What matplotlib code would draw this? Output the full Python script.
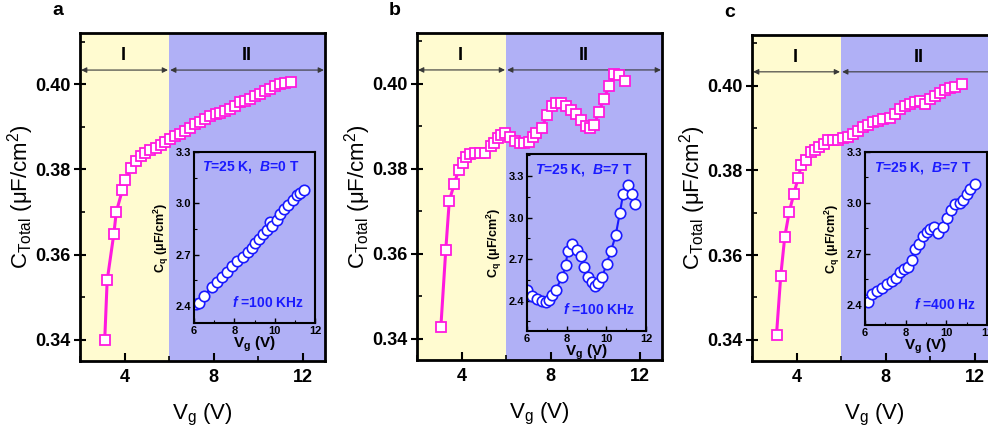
import numpy as np
import matplotlib.pyplot as plt
from matplotlib.ticker import MultipleLocator

plt.rcParams['font.family'] = ['Liberation Sans', 'DejaVu Sans']
plt.rcParams['mathtext.fontset'] = 'custom'
plt.rcParams['mathtext.rm'] = 'Liberation Sans'
plt.rcParams['mathtext.it'] = 'Liberation Sans:italic:bold'
plt.rcParams['mathtext.bf'] = 'Liberation Sans:bold'
plt.rcParams['mathtext.default'] = 'regular'

# --- Data ---

# panel a: T=25 K, B=0 T, f=100 kHz
a_vg = [3.11, 3.22, 3.52, 3.63, 3.90, 4.04, 4.30, 4.52, 4.72, 4.93, 5.15, 5.39, 5.62, 5.83,
        6.02, 6.25, 6.47, 6.70, 6.92, 7.15, 7.37, 7.60, 7.82, 8.09, 8.30, 8.53, 8.72, 8.94,
        9.17, 9.39, 9.62, 9.84, 10.07, 10.29, 10.52, 10.74, 10.97, 11.19, 11.46]
a_ctot = [0.3400, 0.3539, 0.3649, 0.3700, 0.3751, 0.3776, 0.3804, 0.3820, 0.3831, 0.3839,
          0.3845, 0.3851, 0.3857, 0.3863, 0.3871, 0.3878, 0.3882, 0.3890, 0.3898, 0.3906,
          0.3910, 0.3918, 0.3924, 0.3929, 0.3933, 0.3937, 0.3941, 0.3949, 0.3957, 0.3961,
          0.3965, 0.3973, 0.3976, 0.3984, 0.3988, 0.3995, 0.4000, 0.4002, 0.4004]
a_ins_vg = [6.08, 6.26, 6.51, 6.88, 7.12, 7.37, 7.62, 7.87, 8.12, 8.41, 8.66, 8.86, 9.02,
            9.24, 9.44, 9.64, 9.77, 9.85, 10.10, 10.26, 10.46, 10.68, 10.92, 11.09, 11.26, 11.45]
a_ins_cq = [2.41, 2.416, 2.46, 2.512, 2.542, 2.571, 2.60, 2.633, 2.662, 2.687, 2.714, 2.736,
            2.765, 2.79, 2.823, 2.846, 2.891, 2.868, 2.905, 2.94, 2.969, 2.988, 3.017, 3.046,
            3.06, 3.08]

# panel b: T=25 K, B=7 T, f=100 kHz
b_vg = [3.07, 3.29, 3.45, 3.67, 3.87, 4.06, 4.21, 4.39, 4.61, 4.83, 5.06, 5.32, 5.47, 5.62,
        5.77, 5.96, 6.16, 6.38, 6.61, 6.82, 7.01, 7.19, 7.34, 7.61, 7.83, 8.06, 8.24, 8.46,
        8.69, 8.91, 9.14, 9.36, 9.58, 9.78, 9.96, 10.16, 10.38, 10.64, 10.83, 11.06, 11.36]
b_ctot = [0.3427, 0.3608, 0.3725, 0.3764, 0.3798, 0.3815, 0.3827, 0.3834, 0.3837, 0.3837,
          0.3837, 0.3853, 0.3862, 0.3872, 0.3880, 0.3884, 0.3876, 0.3866, 0.3860, 0.3860,
          0.3864, 0.3876, 0.3884, 0.3897, 0.3927, 0.3948, 0.3954, 0.3954, 0.3948, 0.3939,
          0.3929, 0.3915, 0.3901, 0.3896, 0.3904, 0.3933, 0.3964, 0.3996, 0.4024, 0.4021,
          0.4007]
b_ins_vg = [6.02, 6.27, 6.52, 6.74, 6.94, 7.11, 7.24, 7.44, 7.78, 7.95, 8.05, 8.28, 8.50,
            8.70, 8.89, 9.09, 9.26, 9.42, 9.59, 9.79, 10.01, 10.23, 10.47, 10.68, 10.85, 11.07,
            11.27, 11.44]
b_ins_cq = [2.48, 2.436, 2.41, 2.395, 2.39, 2.405, 2.44, 2.478, 2.57, 2.654, 2.76, 2.806,
            2.767, 2.72, 2.646, 2.574, 2.533, 2.509, 2.525, 2.569, 2.666, 2.757, 2.871, 3.033,
            3.173, 3.238, 3.173, 3.096]

# panel c: T=25 K, B=7 T, f=400 Hz
c_vg = [3.10, 3.29, 3.47, 3.67, 3.88, 4.07, 4.22, 4.42, 4.64, 4.82, 5.02, 5.23, 5.42, 5.64,
        5.87, 6.07, 6.32, 6.54, 6.77, 6.99, 7.22, 7.44, 7.67, 7.89, 8.19, 8.42, 8.64, 8.87,
        9.09, 9.32, 9.54, 9.77, 9.99, 10.22, 10.44, 10.67, 10.89, 11.12, 11.42]
c_ctot = [0.3412, 0.3551, 0.3643, 0.3702, 0.3745, 0.3782, 0.3813, 0.3825, 0.3843, 0.3849,
          0.3855, 0.3863, 0.3871, 0.3871, 0.3871, 0.3876, 0.3878, 0.3886, 0.3894, 0.3902,
          0.3907, 0.3914, 0.3918, 0.3922, 0.3925, 0.3933, 0.3945, 0.3953, 0.3958, 0.3961,
          0.3963, 0.3957, 0.3969, 0.3976, 0.3984, 0.3990, 0.3995, 0.3998, 0.4005]
c_ins_vg = [6.05, 6.17, 6.33, 6.58, 6.82, 7.07, 7.31, 7.52, 7.72, 7.92, 8.13, 8.30, 8.46,
            8.68, 8.87, 9.03, 9.20, 9.40, 9.61, 9.82, 10.02, 10.21, 10.43, 10.67, 10.84, 11.00,
            11.16, 11.41]
c_ins_cq = [2.43, 2.414, 2.46, 2.48, 2.50, 2.52, 2.54, 2.56, 2.59, 2.61, 2.62, 2.665, 2.73,
            2.76, 2.805, 2.83, 2.845, 2.857, 2.82, 2.86, 2.91, 2.96, 2.995, 3.0, 3.015, 3.05,
            3.08, 3.11]

panel_letters = ['a', 'b', 'c']
inset_notes = [r'$\mathit{T}$=25 K,  $\mathit{B}$=0 T',
               r'$\mathit{T}$=25 K,  $\mathit{B}$=7 T',
               r'$\mathit{T}$=25 K,  $\mathit{B}$=7 T']
inset_freq = [r'$\mathit{f}$ =100 KHz', r'$\mathit{f}$ =100 KHz', r'$\mathit{f}$ =400 Hz']

YELLOW = '#fffbd0'
BLUE = '#b0b0f6'
MAGENTA = '#ff1adf'
INK_BLUE = '#1a1aff'

W, H = 988, 433
fig = plt.figure(figsize=(W / 100, H / 100), dpi=100)


def px_axes(x0, x1, y0, y1, **kw):
    """Add axes from pixel box (x0..x1 left->right, y0..y1 top->bottom)."""
    return fig.add_axes([x0 / W, 1 - y1 / H, (x1 - x0) / W, (y1 - y0) / H], **kw)


def main_panel(ax, vg, ctot, letter):
    ax.set_xlim(2, 13)
    ax.set_ylim(0.335, 0.412)
    ax.set_facecolor('none')
    ax.axvspan(2, 6, color=YELLOW, zorder=0, lw=0)
    ax.axvspan(6, 13, color=BLUE, zorder=0, lw=0)
    ax.plot(vg, ctot, '-s', color=MAGENTA, lw=2.2, ms=7, mfc='white', mec=MAGENTA, mew=1.3,
            zorder=3)

    # region markers I / II
    y_arrow = 0.4033
    for xa, xb in [(2.05, 5.95), (6.05, 12.95)]:
        ax.annotate('', xy=(xb, y_arrow), xytext=(xa, y_arrow),
                    arrowprops=dict(arrowstyle='<|-|>', color='#383838', lw=0.8,
                                    mutation_scale=8, shrinkA=0, shrinkB=0), zorder=2)
    ax.text(3.95, 0.4067, 'I', ha='center', va='center', fontsize=13, fontweight='bold')
    ax.text(9.5, 0.4067, 'II', ha='center', va='center', fontsize=13, fontweight='bold')

    ax.xaxis.set_major_locator(MultipleLocator(4))
    ax.xaxis.set_minor_locator(MultipleLocator(2))
    ax.yaxis.set_major_locator(MultipleLocator(0.02))
    ax.yaxis.set_minor_locator(MultipleLocator(0.01))
    ax.yaxis.set_major_formatter(plt.FormatStrFormatter('%.2f'))
    ax.tick_params(axis='x', which='major', direction='in', length=6, width=1.5, pad=6)
    ax.tick_params(axis='y', which='major', direction='inout', length=8, width=1.5, pad=3)
    ax.tick_params(which='minor', direction='in', length=3.5, width=1.2)
    for lab in ax.get_xticklabels() + ax.get_yticklabels():
        lab.set_fontsize(13)
        lab.set_fontweight('bold')
    for s in ax.spines.values():
        s.set_linewidth(2)

    ax.set_xlabel('V$_g$ (V)', fontsize=16, labelpad=11)
    ax.set_ylabel('C$_{Total}$ (μF/cm$^2$)', fontsize=16, labelpad=-1)
    ax.text(-0.09, 1.07, letter, transform=ax.transAxes, fontsize=14, fontweight='bold',
            ha='center', va='center')


def inset_panel(ax, vg, cq, ylim, note, freq):
    ax.set_facecolor(BLUE)
    ax.plot(vg, cq, '-o', color=INK_BLUE, lw=1.5, ms=7.5, mfc='white', mec=INK_BLUE, mew=1.2)
    ax.set_xlim(6, 12)
    ax.set_ylim(*ylim)
    ax.xaxis.set_major_locator(MultipleLocator(2))
    ax.xaxis.set_minor_locator(MultipleLocator(1))
    ax.yaxis.set_major_locator(MultipleLocator(0.3))
    ax.yaxis.set_minor_locator(MultipleLocator(0.15))
    ax.yaxis.set_major_formatter(plt.FormatStrFormatter('%.1f'))
    ax.tick_params(which='major', direction='in', length=3.5, width=1, pad=2, labelsize=8)
    ax.tick_params(which='minor', direction='in', length=2, width=0.8)
    for lab in ax.get_xticklabels() + ax.get_yticklabels():
        lab.set_fontweight('bold')
    for s in ax.spines.values():
        s.set_linewidth(1.5)
    ax.set_xlabel('V$_g$ (V)', fontsize=11, labelpad=-1, fontweight='bold')
    ax.set_ylabel('C$_q$ (μF/cm$^2$)', fontsize=9, labelpad=3, fontweight='bold')
    ax.text(0.07, 0.91, note, transform=ax.transAxes, color=INK_BLUE, fontsize=10,
            fontweight='bold', ha='left', va='center')
    ax.text(0.91, 0.12, freq, transform=ax.transAxes, color=INK_BLUE, fontsize=10,
            fontweight='bold', ha='right', va='center')


main_boxes = [(80, 325, 33, 361), (417, 662, 33, 360), (752, 997, 35, 361)]
inset_boxes = [(194, 315, 152, 323), (527, 646, 154, 331), (865, 987, 152, 325)]
inset_ylims = [(2.30, 3.30), (2.18, 3.46), (2.28, 3.30)]

main_data = [(a_vg, a_ctot), (b_vg, b_ctot), (c_vg, c_ctot)]
inset_data = [(a_ins_vg, a_ins_cq), (b_ins_vg, b_ins_cq), (c_ins_vg, c_ins_cq)]

for i in range(3):
    ax = px_axes(*main_boxes[i])
    main_panel(ax, *main_data[i], panel_letters[i])
    axi = px_axes(*inset_boxes[i])
    inset_panel(axi, *inset_data[i], inset_ylims[i], inset_notes[i], inset_freq[i])

fig.savefig('out.png', dpi=100)
